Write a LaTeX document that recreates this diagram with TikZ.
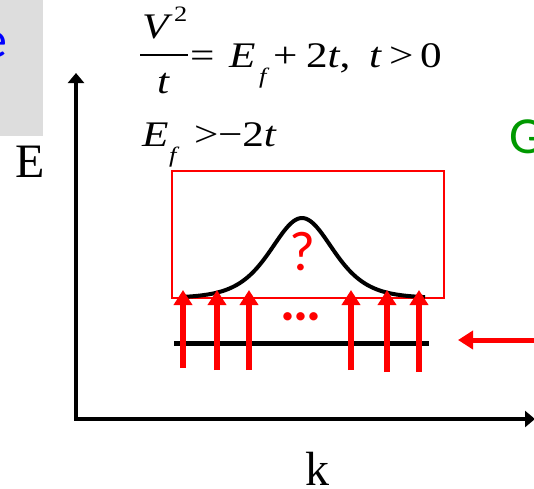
\documentclass[tikz,border=0pt]{standalone}
\usepackage{fontspec}
\setmainfont{Liberation Serif}
\newfontfamily\carl{Carlito}
\newfontfamily\eqfont[FakeStretch=1.2]{Liberation Serif}
\usetikzlibrary{arrows.meta}
\definecolor{boxgrey}{RGB}{221,221,221}
\definecolor{pptred}{RGB}{255,0,0}
\definecolor{pptgreen}{RGB}{0,153,0}
\definecolor{pptblue}{RGB}{0,0,255}
\newcommand{\fs}[1]{\fontsize{#1}{#1}\selectfont}
\tikzset{
  txt/.style={inner sep=0pt, outer sep=0pt, anchor=base west},
  eq/.style={txt, font=\eqfont\fs{36}},
  sub/.style={txt, font=\eqfont\itshape\fs{22}},
  upar/.style={draw=pptred, line width=5.5pt, -{Triangle[width=18pt,length=15pt]}},
}
\begin{document}
\begin{tikzpicture}[x=1pt,y=-1pt]
\useasboundingbox (0,0) rectangle (534,488);
\clip (0,0) rectangle (534,488);
% grey box with cropped blue text
\fill[boxgrey] (0,0) rectangle (43,136);
\node[txt, anchor=base east, text=pptblue, font=\carl\fs{52}] (etxt) at (7,57) {e};
\node[txt, text=pptgreen, font=\carl\fs{52}] (gtxt) at (509,153) {G};
% equation line 1
\node[eq] (V) at (142,38) {\textit{V}};
\node[eq, font=\eqfont\fs{22}] (sq) at (174,21) {2};
\draw[line width=1.5pt] (140,55) -- (188,55);
\node[eq, anchor=base] (tden) at (163.5,93) {\textit{t}};
\node[eq] (eqs) at (190,67) {=};
\node[eq] (E1) at (229,67) {\textit{E}};
\node[sub] (f1) at (259,83) {f};
\node[eq] (plus) at (273,67) {+};
\node[eq] (twot) at (306,67) {2\textit{t},};
\node[eq] (t3) at (369,67) {\textit{t}};
\node[eq] (gt1) at (389,67) {>};
\node[eq] (zero) at (420,67) {0};
% equation line 2
\node[eq] (E2) at (142,146) {\textit{E}};
\node[sub] (f2) at (169,162) {f};
\node[eq] (gt2) at (194,146) {>};
\node[eq] (m2t) at (218,146) {−2\textit{t}};
% axes
\draw[line width=4pt, line join=miter, {Triangle[width=16pt,length=10pt]}-{Triangle[width=16pt,length=10pt]}]
  (76,73) -- (76,419) -- (535,419);
\node[txt, font=\fs{48}] (Elab) at (15,177) {E};
\node[txt, font=\fs{48}] (klab) at (305,485) {k};
% red box and band
\draw[pptred, line width=2pt] (172,171) rectangle (444,298);
\draw[line width=4pt, domain=185:425, samples=120, smooth]
  plot (\x, {298-80/(cosh((\x-302)/42))^2});
\node[txt, anchor=base, text=pptred, font=\carl\fs{56}, text height=36pt, text depth=0pt] (q) at (302,270) {?};
\node[txt, anchor=base, text=pptred, font=\carl\bfseries\fs{56}, text height=8pt, text depth=0pt] (dots) at (301,320) {.\kern-2pt.\kern-2pt.};
\draw[line width=5pt] (174,343) -- (429,343);
\draw[upar] (183,368) -- (183,290);
\draw[upar] (217,370) -- (217,290);
\draw[upar] (249,370) -- (249,290);
\draw[upar] (351,370) -- (351,290);
\draw[upar] (387,372) -- (387,290);
\draw[upar] (419,372) -- (419,290);
\draw[pptred, line width=5pt, -{Triangle[width=18pt,length=15pt]}] (545,340) -- (458,340);
\end{tikzpicture}
\end{document}
